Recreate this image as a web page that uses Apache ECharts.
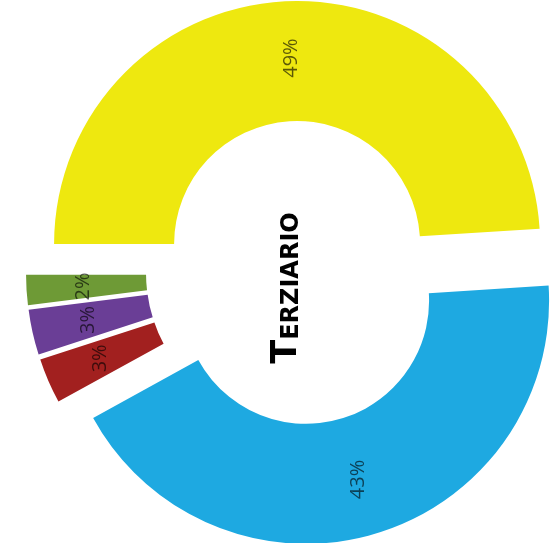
<!DOCTYPE html>
<html>
<head>
<meta charset="utf-8">
<script src="https://cdn.jsdelivr.net/npm/echarts@6/dist/echarts.min.js"></script>
<style>
html,body{margin:0;padding:0;background:#fff;}
#chart{width:551px;height:543px;}
</style>
</head>
<body>
<div id="chart"></div>
<script>
const categories = ['Giallo', 'Blu', 'Rosso', 'Viola', 'Verde'];
const values = [49, 43, 3, 3, 2];
const colors = ['#EEE80F', '#1EA9E1', '#A2201F', '#6A3E96', '#6E9A36'];
const centerTitle = ['T', 'ERZIARIO'];

const chart = echarts.init(document.getElementById('chart'), null, {renderer: 'canvas'});
const data = categories.map((c, i) => ({
  name: c,
  value: values[i],
  selected: true,
  itemStyle: {color: colors[i]},
  select: {itemStyle: {color: colors[i]}}
}));
chart.setOption({
  backgroundColor: '#fff',
  animation: false,
  series: [{
    type: 'pie',
    center: [298, 273],
    radius: [123, 243],
    startAngle: 180,
    clockwise: true,
    selectedMode: 'multiple',
    selectedOffset: 29,
    emphasis: {disabled: true},
    label: {
      show: true,
      position: 'inside',
      rotate: 90,
      formatter: '{c}%',
      fontSize: 20,
      fontFamily: 'Open Sans',
      color: 'rgba(0,0,0,0.62)'
    },
    labelLine: {show: false},
    data: data
  }],
  graphic: [{
    type: 'text',
    x: 287,
    y: 288,
    rotation: Math.PI / 2,
    style: {
      text: '{a|' + centerTitle[0] + '}{b|' + centerTitle[1] + '}',
      align: 'center',
      verticalAlign: 'middle',
      rich: {
        a: {fontSize: 35, fontWeight: 'bold', fontFamily: 'DejaVu Sans', fill: '#000', verticalAlign: 'bottom'},
        b: {fontSize: 24, fontWeight: 'bold', fontFamily: 'DejaVu Sans', fill: '#000', verticalAlign: 'bottom', padding: [0,0,1,0]}
      }
    }
  }]
});
</script>
</body>
</html>
